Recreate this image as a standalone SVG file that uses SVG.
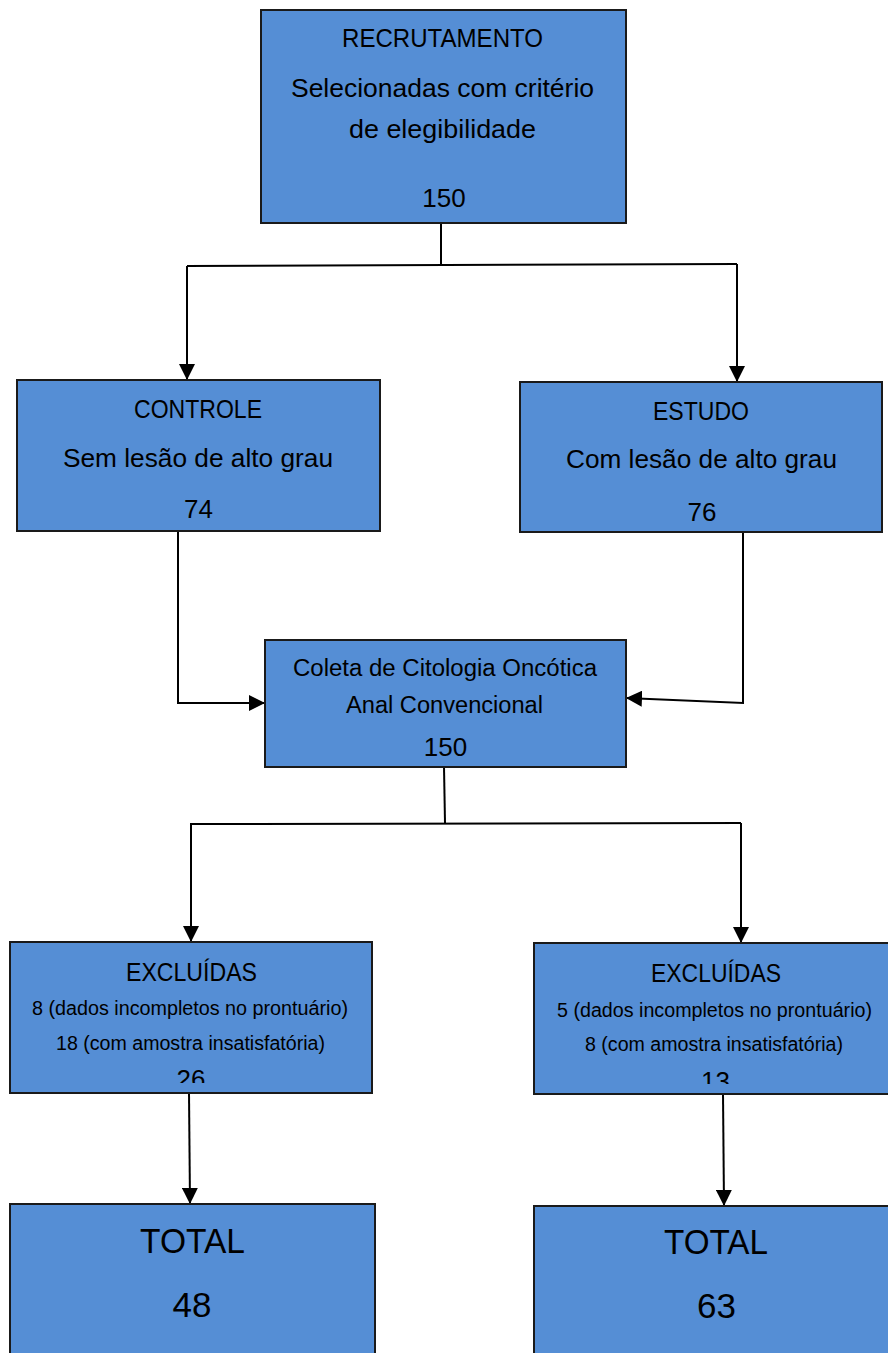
<svg xmlns="http://www.w3.org/2000/svg" width="888" height="1353" viewBox="0 0 888 1353">
<style>
.box{fill:#558ed5;stroke:#1a1a1a;stroke-width:2}
.t{font-family:"Liberation Sans",Arial,sans-serif;fill:#000;text-anchor:middle}
.big{font-size:26px}
.num{font-size:26px}
.mid{font-size:23px}
.sm{font-size:19.5px}
.tot{font-size:35px}
.ln{fill:none;stroke:#000;stroke-width:2}
</style>
<defs>
<marker id="ah" viewBox="0 0 16 16" refX="16" refY="8" markerWidth="16" markerHeight="16" orient="auto" markerUnits="userSpaceOnUse">
<path d="M0,0 L16,8 L0,16 Z" fill="#000"/>
</marker>
<clipPath id="clipL"><rect x="0" y="900" width="888" height="183"/></clipPath>
<clipPath id="clipR"><rect x="0" y="900" width="888" height="184"/></clipPath>
</defs>

<g id="connectors">
<path class="ln" d="M441,223 L441,265"/>
<path class="ln" d="M187,266 L737,264"/>
<path class="ln" d="M187,266 L187,380" marker-end="url(#ah)"/>
<path class="ln" d="M737,264 L737,382" marker-end="url(#ah)"/>
<path class="ln" d="M178,531 L178,703 L265,703" marker-end="url(#ah)"/>
<path class="ln" d="M743,532 L743,703 L626,698" marker-end="url(#ah)"/>
<path class="ln" d="M444,767 L445,823"/>
<path class="ln" d="M190,824 L741,823"/>
<path class="ln" d="M191,824 L191,942" marker-end="url(#ah)"/>
<path class="ln" d="M741,823 L741,943" marker-end="url(#ah)"/>
<path class="ln" d="M189,1093 L190,1204" marker-end="url(#ah)"/>
<path class="ln" d="M723,1094 L724,1206" marker-end="url(#ah)"/>
</g>

<g id="recrutamento">
<rect class="box" x="261" y="10" width="365" height="213"/>
<text class="t big" x="442.5" y="47" textLength="201" lengthAdjust="spacingAndGlyphs">RECRUTAMENTO</text>
<text class="t big" x="442.5" y="97" textLength="303" lengthAdjust="spacingAndGlyphs">Selecionadas com critério</text>
<text class="t big" x="442.5" y="138" textLength="187" lengthAdjust="spacingAndGlyphs">de elegibilidade</text>
<text class="t num" x="444" y="207">150</text>
</g>

<g id="controle">
<rect class="box" x="17" y="380" width="363" height="151"/>
<text class="t big" x="198" y="418" textLength="128" lengthAdjust="spacingAndGlyphs">CONTROLE</text>
<text class="t big" x="198" y="467" textLength="270" lengthAdjust="spacingAndGlyphs">Sem lesão de alto grau</text>
<text class="t num" x="198.5" y="518">74</text>
</g>

<g id="estudo">
<rect class="box" x="520" y="382" width="362" height="150"/>
<text class="t big" x="701" y="420" textLength="96" lengthAdjust="spacingAndGlyphs">ESTUDO</text>
<text class="t big" x="701.5" y="468" textLength="271" lengthAdjust="spacingAndGlyphs">Com lesão de alto grau</text>
<text class="t num" x="702" y="521">76</text>
</g>

<g id="coleta">
<rect class="box" x="265" y="640" width="361" height="127"/>
<text class="t mid" x="445" y="676" textLength="304" lengthAdjust="spacingAndGlyphs">Coleta de Citologia Oncótica</text>
<text class="t mid" x="444.5" y="713" textLength="197" lengthAdjust="spacingAndGlyphs">Anal Convencional</text>
<text class="t num" x="445.5" y="756">150</text>
</g>

<g id="excluidas-esq">
<rect class="box" x="10" y="942" width="362" height="151"/>
<text class="t big" x="191.5" y="981" textLength="131" lengthAdjust="spacingAndGlyphs">EXCLUÍDAS</text>
<text class="t sm" x="190" y="1015" textLength="316" lengthAdjust="spacingAndGlyphs">8 (dados incompletos no prontuário)</text>
<text class="t sm" x="190.5" y="1050" textLength="269" lengthAdjust="spacingAndGlyphs">18 (com amostra insatisfatória)</text>
<text class="t num" x="191" y="1088" clip-path="url(#clipL)">26</text>
</g>

<g id="excluidas-dir">
<rect class="box" x="534" y="943" width="360" height="151"/>
<text class="t big" x="716" y="982" textLength="130" lengthAdjust="spacingAndGlyphs">EXCLUÍDAS</text>
<text class="t sm" x="714.5" y="1017" textLength="315" lengthAdjust="spacingAndGlyphs">5 (dados incompletos no prontuário)</text>
<text class="t sm" x="714" y="1051" textLength="258" lengthAdjust="spacingAndGlyphs">8 (com amostra insatisfatória)</text>
<text class="t num" x="715.5" y="1090" clip-path="url(#clipR)">13</text>
</g>

<g id="total-esq">
<rect class="box" x="10" y="1204" width="365" height="160"/>
<text class="t tot" x="192.5" y="1253" textLength="105" lengthAdjust="spacingAndGlyphs">TOTAL</text>
<text class="t tot" x="192" y="1317">48</text>
</g>

<g id="total-dir">
<rect class="box" x="534" y="1206" width="360" height="160"/>
<text class="t tot" x="716" y="1254" textLength="104" lengthAdjust="spacingAndGlyphs">TOTAL</text>
<text class="t tot" x="716.5" y="1318">63</text>
</g>
</svg>
